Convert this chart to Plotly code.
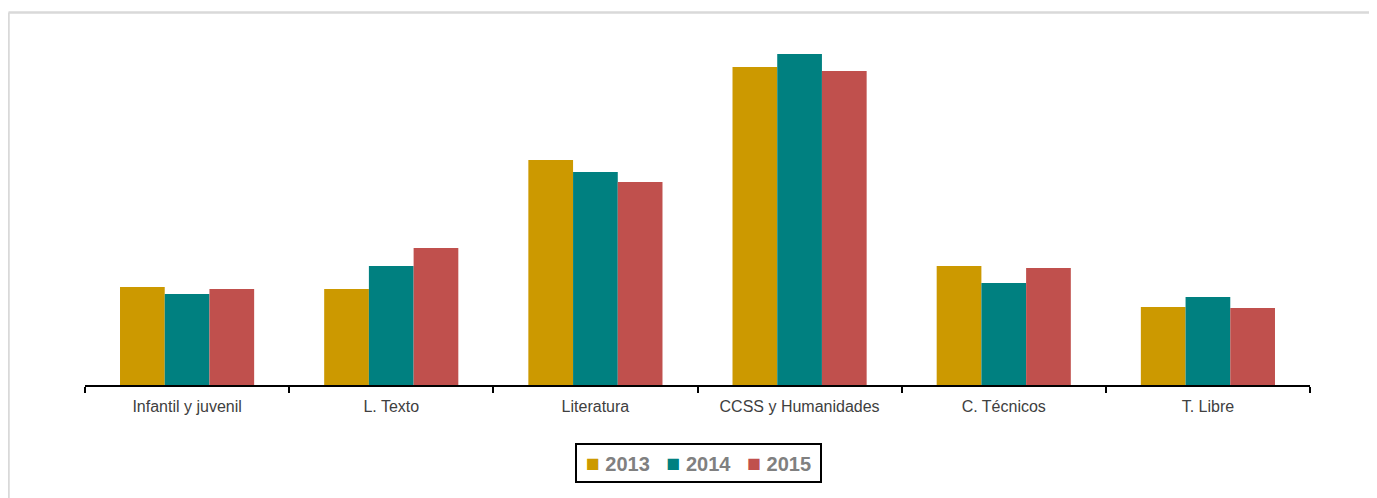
import plotly.graph_objects as go

categories = ["Infantil y juvenil", "L. Texto", "Literatura", "CCSS y Humanidades", "C. Técnicos", "T. Libre"]
series_names = ["2013", "2014", "2015"]
values_2013 = [98, 96, 225, 318, 119, 78]
values_2014 = [91, 119, 213, 331, 102, 88]
values_2015 = [96, 137, 203, 314, 117, 77]
colors = ["#CC9900", "#008080", "#C0504D"]

fig = go.Figure()
for name, vals, col in zip(series_names, [values_2013, values_2014, values_2015], colors):
    fig.add_trace(go.Bar(x=categories, y=vals, name=name, showlegend=False,
                         marker=dict(color=col, line=dict(width=0))))

# page is offset by 8px body margin
OFF = 8
W, H = 1377, 498
L, T = 85 - OFF, 35 - OFF
pw, ph = 1225, 350
R = W - L - pw
B = H - T - ph

def px_x(x):
    return (x - OFF - L) / pw

def px_y(y):
    return (T + ph - (y - OFF)) / ph

NB = "\u00a0"
legend_text = (NB * 3).join(
    f"<span style='color:{c};font-size:23px'>■</span>{NB}{n}" for n, c in zip(series_names, colors)
)

fig.update_layout(
    width=W, height=H,
    margin=dict(l=L, r=R, t=T, b=B),
    paper_bgcolor="white", plot_bgcolor="white",
    barmode="group", bargap=0.343, bargroupgap=0,
    font=dict(family="Arial, Liberation Sans, sans-serif"),
    showlegend=False,
    xaxis=dict(
        showline=True, linecolor="black", linewidth=2,
        ticks="outside", tickson="boundaries", ticklen=6, tickwidth=2, tickcolor="black",
        ticklabelstandoff=6,
        tickfont=dict(size=16, color="#404040"), showgrid=False, zeroline=False,
    ),
    yaxis=dict(visible=False, range=[0, 350], showgrid=False, zeroline=False),
    annotations=[
        dict(xref="paper", yref="paper", x=px_x(698.5), y=px_y(463), xanchor="center", yanchor="middle",
             text=legend_text, showarrow=False, width=243, height=36, align="center", valign="middle",
             bordercolor="black", borderwidth=2, borderpad=0, bgcolor="white",
             font=dict(size=20, color="#808080", family="Arial, Liberation Sans, sans-serif", weight="bold")),
    ],
    shapes=[
        dict(type="line", xref="paper", yref="paper", x0=px_x(8.5), x1=px_x(1390), y0=px_y(12.5), y1=px_y(12.5),
             line=dict(color="#D9D9D9", width=2.5)),
        dict(type="line", xref="paper", yref="paper", x0=px_x(8.5), x1=px_x(8.5), y0=px_y(12.5), y1=px_y(510),
             line=dict(color="#D9D9D9", width=2.5)),
    ],
)

fig.write_html("out.html")
